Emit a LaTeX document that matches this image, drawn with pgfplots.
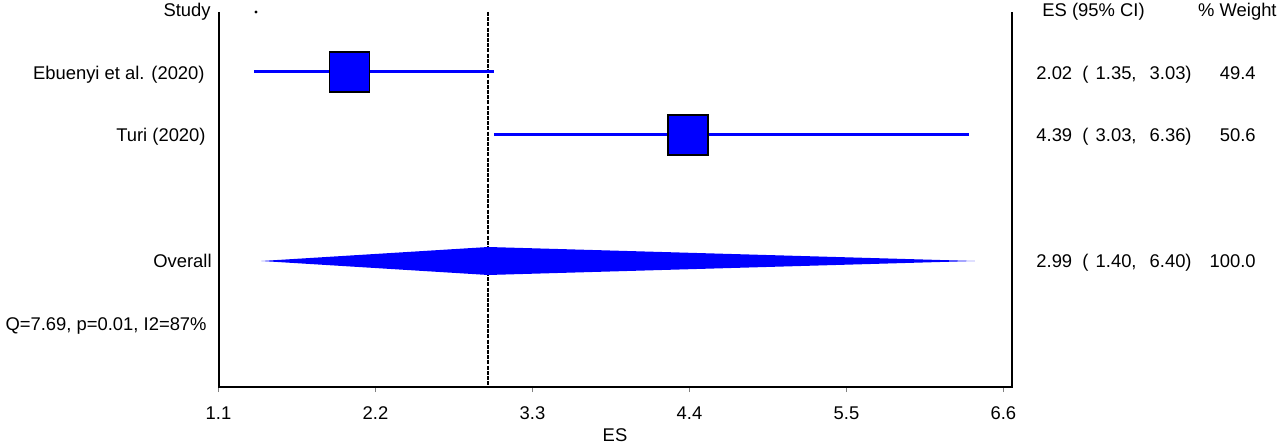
\documentclass[border=0pt]{standalone}
\usepackage{fontspec}
\setmainfont{Liberation Sans}
\usepackage{pgfplots}
\pgfplotsset{compat=1.18}
\definecolor{esblue}{RGB}{0,0,255}

\begin{document}
\begin{tikzpicture}[font=\fontsize{9.2bp}{11bp}\selectfont]
% page = 1280x443 px at 0.5bp per px; axis box lower left at px (218.5,387)
\useasboundingbox (-109.25bp,-28bp) rectangle (530.75bp,193.5bp);
\begin{axis}[
    scale only axis,
    width=396.75bp, height=187.5bp,
    xmin=1.1, xmax=6.66,
    ymin=-387, ymax=-12,
    clip=false,
    axis line style={draw=none},
    ytick=\empty,
    xtick={1.1,2.2,3.3,4.4,5.5,6.6},
    xticklabels={1.1,2.2,3.3,4.4,5.5,6.6},
    tick align=outside,
    major tick length=2.5bp,
    x tick style={draw=gray, line width=0.5bp},
    xtick pos=bottom,
    xticklabel style={anchor=base, yshift=-13.5bp, font=\fontsize{9.2bp}{11bp}\selectfont},
]
% overall effect line
\addplot[black, line width=1bp, dash pattern=on 2bp off 0.6bp] coordinates {(2.99,-12) (2.99,-387)};
% confidence intervals
\addplot[esblue, line width=1.5bp] coordinates {(1.35,-72) (3.03,-72)};
\addplot[esblue, line width=1.5bp] coordinates {(3.03,-135) (6.36,-135)};
% study estimates
\addplot[only marks, mark=square*, mark size=10bp, mark options={fill=esblue, draw=black, line width=0.6bp}]
    coordinates {(2.02,-72) (4.39,-135)};
% pooled estimate
\addplot[fill=esblue, draw=none] coordinates {(1.40,-261) (2.99,-247) (6.40,-261) (2.99,-275)} -- cycle;
\addplot[only marks, mark=*, mark size=0.5bp, black] coordinates {(1.363,-12)};
\draw[line width=1bp] (rel axis cs:0,1) -- (rel axis cs:0,0) -- (rel axis cs:1,0) -- (rel axis cs:1,1);
\end{axis}
\tikzset{every node/.style={inner sep=0pt}}
% left column
\node[anchor=base east] at (-3.75bp,185bp) {Study};
\node[anchor=base east] at (-6.75bp,153.5bp) {Ebuenyi et al. (2020)};
\node[anchor=base east] at (-6.25bp,122.5bp) {Turi (2020)};
\node[anchor=base east] at (-3.25bp,59.5bp) {Overall};
\node[anchor=base east] at (-5.75bp,28.5bp) {Q=7.69, p=0.01, I2=87\%};
% right columns
\node[anchor=base west] at (411.75bp,185bp) {ES (95\% CI)};
\node[anchor=base east] at (529.25bp,185bp) {\% Weight};
\node[anchor=base west] at (408.75bp,153.5bp) {2.02};
\node[anchor=base west] at (431.75bp,153.5bp) {(};
\node[anchor=base east] at (459.25bp,153.5bp) {1.35,};
\node[anchor=base east] at (486.75bp,153.5bp) {3.03)};
\node[anchor=base east] at (518.75bp,153.5bp) {49.4};
\node[anchor=base west] at (408.75bp,122.5bp) {4.39};
\node[anchor=base west] at (431.75bp,122.5bp) {(};
\node[anchor=base east] at (459.25bp,122.5bp) {3.03,};
\node[anchor=base east] at (486.75bp,122.5bp) {6.36)};
\node[anchor=base east] at (518.75bp,122.5bp) {50.6};
\node[anchor=base west] at (408.75bp,59.5bp) {2.99};
\node[anchor=base west] at (431.75bp,59.5bp) {(};
\node[anchor=base east] at (459.25bp,59.5bp) {1.40,};
\node[anchor=base east] at (486.75bp,59.5bp) {6.40)};
\node[anchor=base east] at (518.75bp,59.5bp) {100.0};
% axis title
\node[anchor=base] at (198.25bp,-27bp) {ES};
\end{tikzpicture}
\end{document}
